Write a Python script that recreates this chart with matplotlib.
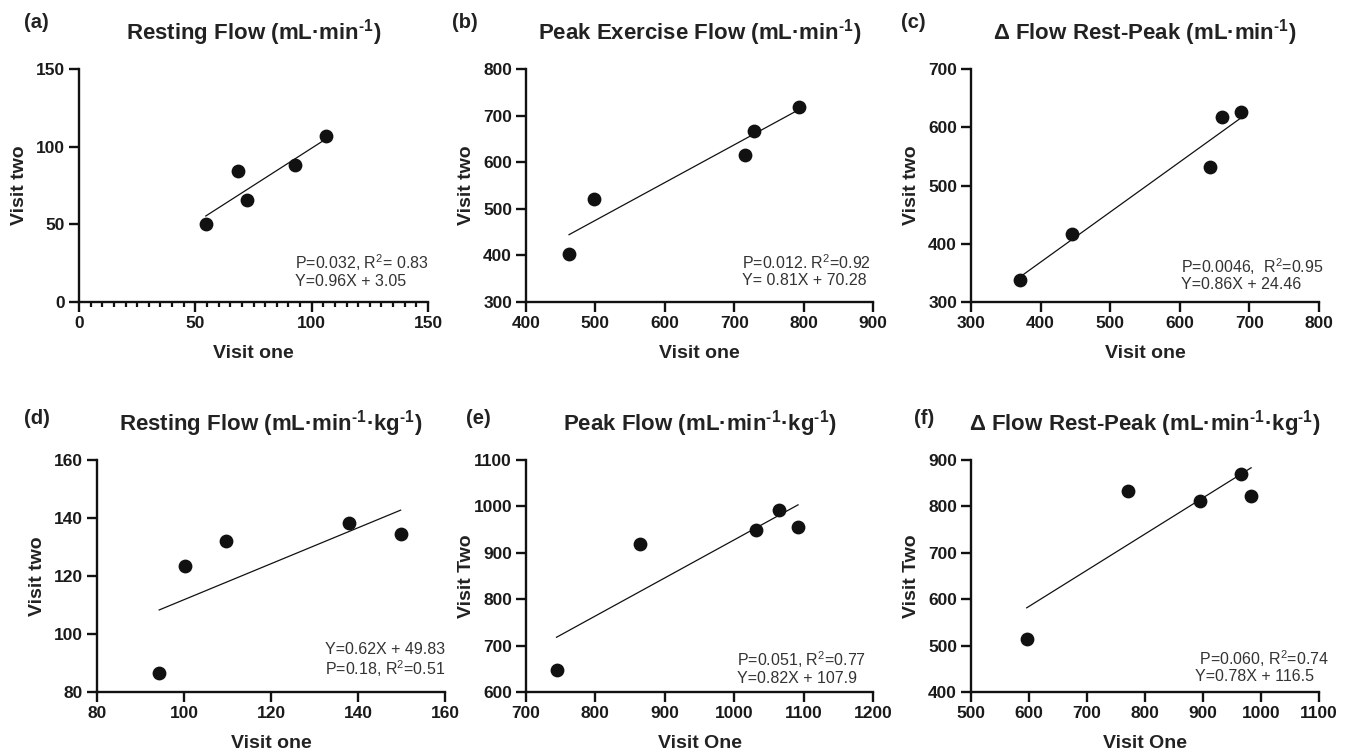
import matplotlib.pyplot as plt
from matplotlib.ticker import MultipleLocator

plt.rcParams['font.family'] = ['Liberation Sans', 'DejaVu Sans']
plt.rcParams['mathtext.fontset'] = 'custom'
plt.rcParams['mathtext.rm'] = 'Liberation Sans'
plt.rcParams['mathtext.bf'] = 'Liberation Sans:bold'
plt.rcParams['mathtext.it'] = 'Liberation Sans:italic'

# 数据
labels = ["(a)", "(b)", "(c)", "(d)", "(e)", "(f)"]
sup = "$^{\\mathbf{\u2010}\\mathbf{1}}$"  # 上标 "-1" (用连字符)
titles = [
    "Resting Flow (mL·min" + sup + ")",
    "Peak Exercise Flow (mL·min" + sup + ")",
    "Δ Flow Rest-Peak (mL·min" + sup + ")",
    "Resting Flow (mL·min" + sup + "·kg" + sup + ")",
    "Peak Flow (mL·min" + sup + "·kg" + sup + ")",
    "Δ Flow Rest-Peak (mL·min" + sup + "·kg" + sup + ")",
]
xlabels = ["Visit one", "Visit one", "Visit one", "Visit one", "Visit One", "Visit One"]
ylabels = ["Visit two", "Visit two", "Visit two", "Visit two", "Visit Two", "Visit Two"]

x_a = [54.5, 68.5, 72.1, 92.7, 106.1]
y_a = [50.2, 84.3, 65.7, 88.4, 106.7]
x_b = [462, 498, 716, 728, 794]
y_b = [403, 522, 616, 668, 719]
x_c = [370, 445, 644, 660, 688]
y_c = [338, 416, 532, 618, 627]
x_d = [94.3, 100.2, 109.7, 137.9, 149.8]
y_d = [86.6, 123.3, 132.2, 138.4, 134.5]
x_e = [744, 864, 1031, 1064, 1092]
y_e = [648, 920, 950, 993, 955]
x_f = [596, 771, 894, 965, 983]
y_f = [514, 833, 812, 870, 823]
xs = [x_a, x_b, x_c, x_d, x_e, x_f]
ys = [y_a, y_b, y_c, y_d, y_e, y_f]

# 回归线 (斜率, 截距) 取自图中公式
slopes = [0.96, 0.81, 0.86, 0.62, 0.82, 0.78]
intercepts = [3.05, 70.28, 24.46, 49.83, 107.9, 116.5]

xlims = [(0, 150), (400, 900), (300, 800), (80, 160), (700, 1200), (500, 1100)]
ylims = [(0, 150), (300, 800), (300, 700), (80, 160), (600, 1100), (400, 900)]
xsteps = [50, 100, 100, 20, 100, 100]
ysteps = [50, 100, 100, 20, 100, 100]

stat_texts = [
    "P=0.032, R$^2$= 0.83\nY=0.96X + 3.05",
    "P=0.012. R$^2$=0.92\nY= 0.81X + 70.28",
    "P=0.0046,  R$^2$=0.95\nY=0.86X + 24.46",
    "Y=0.62X + 49.83\nP=0.18, R$^2$=0.51",
    "P=0.051, R$^2$=0.77\nY=0.82X + 107.9",
    " P=0.060, R$^2$=0.74\nY=0.78X + 116.5",
]
# 注释位置 (axes 坐标)
stat_pos = [(0.619, 0.135, 'left'), (0.622, 0.135, 'left'), (0.603, 0.12, 'left'),
            (1.0, 0.135, 'right'), (0.609, 0.106, 'left'), (0.644, 0.111, 'left')]

# 坐标轴位置 (像素)
W, H = 1352, 754
boxes = [(79, 69, 428, 302), (526, 69, 873, 302), (971, 69, 1319, 302),
         (97, 460, 445, 692), (526, 460, 873, 692), (971, 460, 1319, 692)]
label_x = [24, 452, 901, 24, 466, 914]
label_y = [23, 23, 23, 418, 418, 418]
title_y = [33, 33, 33, 424, 424, 424]

fig = plt.figure(figsize=(W / 100, H / 100), dpi=100)

for i in range(6):
    x0, y0, x1, y1 = boxes[i]
    ax = fig.add_axes([x0 / W, 1 - y1 / H, (x1 - x0) / W, (y1 - y0) / H])
    ax.scatter(xs[i], ys[i], s=80, color='#111111', zorder=3, clip_on=False)
    lx = [min(xs[i]), max(xs[i])]
    ly = [slopes[i] * v + intercepts[i] for v in lx]
    ax.plot(lx, ly, color='#111111', linewidth=0.9)
    ax.set_xlim(*xlims[i])
    ax.set_ylim(*ylims[i])
    ax.xaxis.set_major_locator(MultipleLocator(xsteps[i]))
    ax.yaxis.set_major_locator(MultipleLocator(ysteps[i]))
    if i == 0:
        ax.xaxis.set_minor_locator(MultipleLocator(5))
        ax.tick_params(axis='x', which='minor', length=3.5, width=1.6, color='#111111')
    for s in ['top', 'right']:
        ax.spines[s].set_visible(False)
    for s in ['left', 'bottom']:
        ax.spines[s].set_linewidth(1.7)
        ax.spines[s].set_color('#111111')
    ax.tick_params(axis='both', which='major', length=7, width=1.7, color='#111111',
                   labelsize=12.5, labelcolor='#1a1a1a', pad=3)
    for lab in ax.get_xticklabels() + ax.get_yticklabels():
        lab.set_fontweight('bold')
    ax.set_xlabel(xlabels[i], fontsize=14, fontweight='bold', color='#222222', labelpad=10)
    ax.set_ylabel(ylabels[i], fontsize=14, fontweight='bold', color='#222222')
    ax.yaxis.set_label_coords(-51 / (x1 - x0), 0.5)

    px, py, ha = stat_pos[i]
    ax.text(px, py, stat_texts[i], transform=ax.transAxes, ha=ha, va='center',
            fontsize=11.5, color='#333333', linespacing=1.05)

    fig.text((x0 + x1) / 2 / W, 1 - title_y[i] / H, titles[i], ha='center', va='center',
             fontsize=16, fontweight='bold', color='#222222')
    fig.text(label_x[i] / W, 1 - label_y[i] / H, labels[i], ha='left', va='center',
             fontsize=14.5, fontweight='bold', color='#222222')

fig.savefig("out.png", dpi=100)
